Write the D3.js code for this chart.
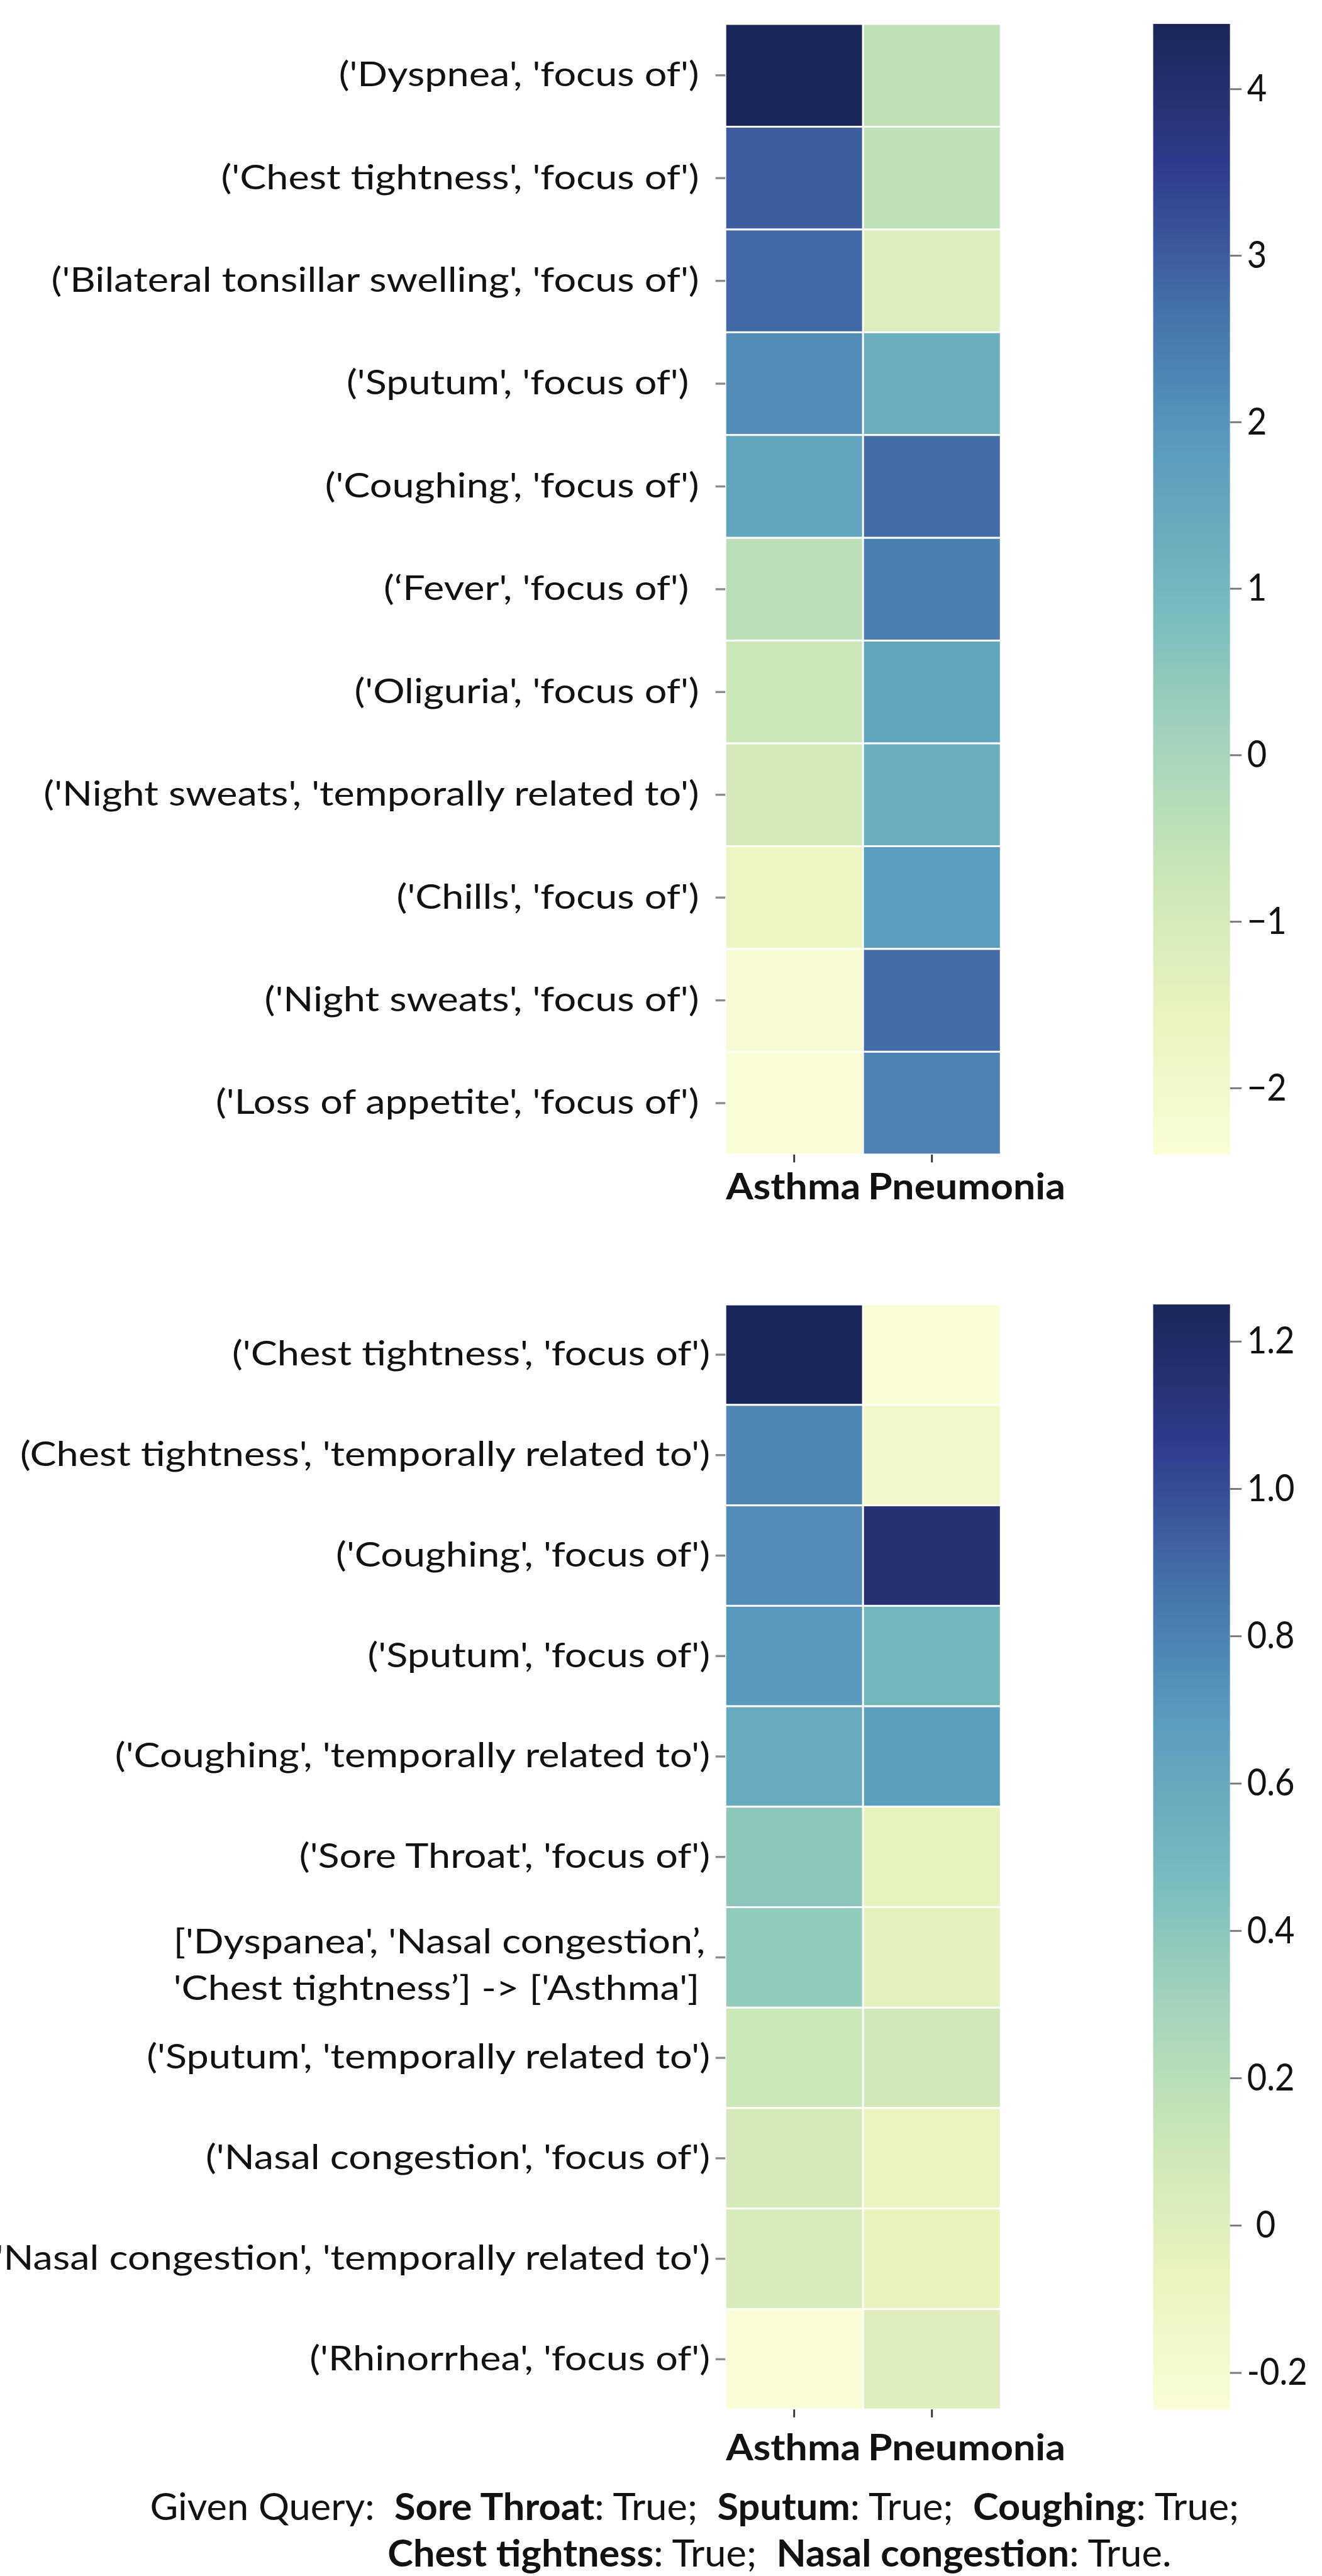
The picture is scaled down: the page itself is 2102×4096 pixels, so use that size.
<!DOCTYPE html>
<html>
<head>
<meta charset="utf-8">
<script src="https://cdn.jsdelivr.net/npm/d3@7"></script>
<style>
  body { margin: 0; background: #fff; }
  svg text { font-family: Lato, "Open Sans", sans-serif; fill: #111; white-space: pre; }
</style>
</head>
<body>
<svg id="chart" width="2102" height="4096" viewBox="0 0 2169 4226"></svg>
<script>
// ---- data ----
const diseases = ["Asthma", "Pneumonia"];

const topLabels = [
  "('Dyspnea', 'focus of')",
  "('Chest tightness', 'focus of')",
  "('Bilateral tonsillar swelling', 'focus of')",
  "('Sputum', 'focus of') ",
  "('Coughing', 'focus of')",
  "(\u2018Fever', 'focus of') ",
  "('Oliguria', 'focus of')",
  "('Night sweats', 'temporally related to')",
  "('Chills', 'focus of')",
  "('Night sweats', 'focus of')",
  "('Loss of appetite', 'focus of')"
];
const topAsthma    = [4.39, 3.0, 2.8, 2.15, 1.6, -0.4, -0.75, -1.0, -1.7, -2.25, -2.4];
const topPneumonia = [-0.5, -0.48, -1.2, 1.3, 2.75, 2.4, 1.6, 1.25, 1.8, 2.75, 2.35];
const topRange = [-2.4, 4.39];
const topTicks = [4, 3, 2, 1, 0, -1, -2];
const topTickLabels = ["4", "3", "2", "1", "0", "\u22121", "\u22122"];

const botLabels = [
  "('Chest tightness', 'focus of')",
  "(Chest tightness', 'temporally related to')",
  "('Coughing', 'focus of')",
  "('Sputum', 'focus of')",
  "('Coughing', 'temporally related to')",
  "('Sore Throat', 'focus of')",
  ["['Dyspanea', 'Nasal congestion\u2019,", "'Chest tightness\u2019] -> ['Asthma']"],
  "('Sputum', 'temporally related to')",
  "('Nasal congestion', 'focus of')",
  "('Nasal congestion', 'temporally related to')",
  "('Rhinorrhea', 'focus of')"
];
const botAsthma    = [1.25, 0.78, 0.75, 0.7, 0.58, 0.39, 0.37, 0.1, 0.06, 0.05, -0.24];
const botPneumonia = [-0.24, -0.15, 1.15, 0.5, 0.67, -0.05, -0.03, 0.09, -0.07, -0.06, 0.0];
const botRange = [-0.25, 1.25];
const botTicks = [1.2, 1.0, 0.8, 0.6, 0.4, 0.2, 0, -0.2];
const botTickLabels = ["1.2", "1.0", "0.8", "0.6", "0.4", "0.2", " 0", "-0.2"];

const queryLine1 = [["Given Query:  ", false], ["Sore Throat", true], [": True;  ", false],
                    ["Sputum", true], [": True;  ", false], ["Coughing", true], [": True;", false]];
const queryLine2 = [["Chest tightness", true], [": True;  ", false],
                    ["Nasal congestion", true], [": True.", false]];

// colormap (YlGnBu as it appears in the picture)
const cmap = ["#fbfdd6", "#e9f4bd", "#c9e6b7", "#a0d2bb", "#73b7be",
              "#5a9cbd", "#4470ab", "#2f3b8b", "#1b2658"];

// ---- layout ----
const svg = d3.select("#chart");
const defs = svg.append("defs");
const left = 1190, right = 1642;
const cbLeft = 1892, cbWidth = 126;
const x = d3.scaleBand().domain(diseases).range([left, right]);

const LABEL_SIZE = 56, XLABEL_SIZE = 60, CB_SIZE = 62, QUERY_SIZE = 61;

// horizontal squeeze so the installed font spans what the narrow original font did
function measure(str, size, bold) {
  const t = svg.append("text").attr("font-size", size).attr("font-weight", bold ? 700 : 400).text(str);
  const w = t.node().getComputedTextLength();
  t.remove();
  return w;
}
const kY = 1063 / measure("('Bilateral tonsillar swelling', 'focus of')", LABEL_SIZE, false);
const kX = 324 / measure("Pneumonia", XLABEL_SIZE, true);
const kC = 99 / measure("-0.2", CB_SIZE, false);

function panel(cfg, n) {
  const g = svg.append("g");
  const y = d3.scaleBand().domain(d3.range(cfg.labels.length)).range([cfg.top, cfg.bottom]);
  const color = d3.scaleLinear()
    .domain(cmap.map((c, i) => cfg.range[0] + (cfg.range[1] - cfg.range[0]) * i / (cmap.length - 1)))
    .range(cmap);

  let cells = [];
  cfg.labels.forEach((l, i) => {
    cells.push({row: i, col: "Asthma", v: cfg.asthma[i]});
    cells.push({row: i, col: "Pneumonia", v: cfg.pneumonia[i]});
  });
  g.selectAll("rect.cell").data(cells).join("rect")
    .attr("class", "cell")
    .attr("x", d => x(d.col))
    .attr("y", d => y(d.row))
    .attr("width", x.bandwidth())
    .attr("height", y.bandwidth())
    .attr("fill", d => color(d.v))
    .attr("stroke", "#fff")
    .attr("stroke-width", 3);

  // y axis with row labels
  const off = 16 + cfg.pad;
  const yAxis = g.append("g").attr("transform", `translate(${left},0)`)
    .call(d3.axisLeft(y).tickSize(16).tickPadding(cfg.pad)
      .tickFormat(i => Array.isArray(cfg.labels[i]) ? "" : cfg.labels[i]));
  yAxis.select(".domain").remove();
  yAxis.selectAll(".tick line").attr("stroke", "#8c8c8c").attr("stroke-width", 3.5);
  yAxis.selectAll(".tick text")
    .attr("font-size", LABEL_SIZE)
    .attr("x", 0)
    .attr("transform", `translate(${-off},0) scale(${kY},1)`);

  // two-line label, left aligned block
  cfg.labels.forEach((l, i) => {
    if (!Array.isArray(l)) return;
    const ml = g.append("g")
      .attr("transform", `translate(${left - off - 8},${y(i) + y.bandwidth() / 2}) scale(${kY},1)`);
    const t1 = ml.append("text").attr("font-size", LABEL_SIZE).attr("text-anchor", "end")
      .attr("y", -7).text(l[0]);
    const w1 = t1.node().getComputedTextLength();
    ml.append("text").attr("font-size", LABEL_SIZE).attr("x", -w1).attr("y", 70).text(l[1]);
  });

  // x axis
  const xAxis = g.append("g").attr("transform", `translate(0,${cfg.bottom})`)
    .call(d3.axisBottom(x).tickSize(13).tickFormat(""));
  xAxis.select(".domain").remove();
  xAxis.selectAll(".tick line").attr("stroke", "#333").attr("stroke-width", 3);
  const xOff = [1, 8];
  diseases.forEach((d, i) => {
    g.append("text")
      .attr("transform", `translate(${x(d) + xOff[i]},${cfg.bottom + cfg.xLabelDy}) scale(${kX},1)`)
      .attr("font-size", XLABEL_SIZE).attr("font-weight", 700)
      .text(d);
  });

  // colour bar
  const cb = d3.scaleLinear().domain(cfg.range).range([cfg.bottom, cfg.top]);
  const grad = defs.append("linearGradient").attr("id", "grad" + n)
    .attr("x1", 0).attr("y1", 1).attr("x2", 0).attr("y2", 0);
  grad.selectAll("stop").data(d3.range(0, 1.0001, 0.02)).join("stop")
    .attr("offset", t => t)
    .attr("stop-color", t => color(cfg.range[0] + t * (cfg.range[1] - cfg.range[0])));
  g.append("rect")
    .attr("x", cbLeft).attr("y", cfg.top)
    .attr("width", cbWidth).attr("height", cfg.bottom - cfg.top)
    .attr("fill", `url(#grad${n})`);
  const cbAxis = g.append("g").attr("transform", `translate(${cbLeft + cbWidth},0)`)
    .call(d3.axisRight(cb).tickValues(cfg.ticks).tickSize(19)
      .tickFormat((d, i) => cfg.tickLabels[i]));
  cbAxis.select(".domain").remove();
  cbAxis.selectAll(".tick line").attr("stroke", "#777").attr("stroke-width", 3);
  cbAxis.selectAll(".tick text")
    .attr("font-size", CB_SIZE)
    .attr("x", 0)
    .attr("transform", `translate(28,0) scale(${kC},1)`);
}

panel({labels: topLabels, asthma: topAsthma, pneumonia: topPneumonia, range: topRange,
       ticks: topTicks, tickLabels: topTickLabels, top: 39, bottom: 1894, pad: 27, xLabelDy: 74}, 0);
panel({labels: botLabels, asthma: botAsthma, pneumonia: botPneumonia, range: botRange,
       ticks: botTicks, tickLabels: botTickLabels, top: 2140, bottom: 3953, pad: 9, xLabelDy: 83}, 1);

// query caption
function queryLine(parts) {
  const t = svg.append("text").attr("font-size", QUERY_SIZE);
  parts.forEach(p => t.append("tspan").attr("font-weight", p[1] ? 700 : 400).text(p[0]));
  return t;
}
const q1 = queryLine(queryLine1);
const kQ = 1787 / q1.node().getComputedTextLength();
q1.attr("transform", `translate(246,4134) scale(${kQ},1)`);
queryLine(queryLine2).attr("transform", `translate(636,4211) scale(${kQ},1)`);
</script>
</body>
</html>
